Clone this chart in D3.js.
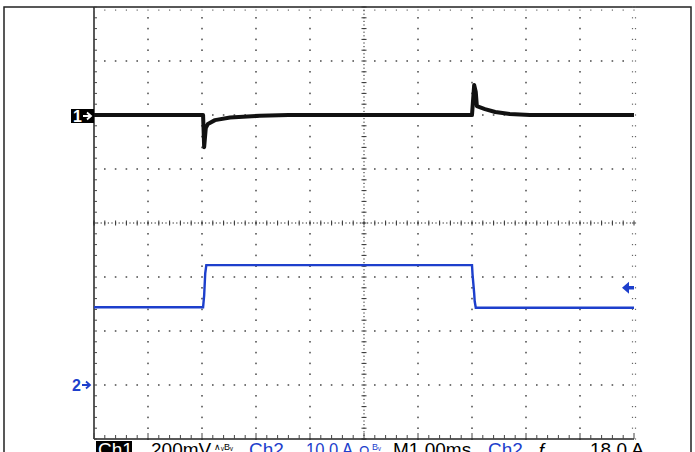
<!DOCTYPE html>
<html>
<head>
<meta charset="utf-8">
<script src="https://cdn.jsdelivr.net/npm/d3@7.9.0/dist/d3.min.js"></script>
<style>
  body { margin: 0; background: #fff; }
  svg { display: block; font-family: "Liberation Sans", Arial, sans-serif; }
</style>
</head>
<body>
<svg id="scope" width="695" height="452"></svg>
<script>
// scope capture: Ch1 voltage (200mV/div), Ch2 current (10A/div), 1ms/div
const ch1Time = [0, 2.02, 2.04, 2.07, 2.11, 2.24, 2.52, 3.07, 3.6, 7.0, 7.04, 7.07, 7.09, 7.24, 7.43, 7.70, 8.07, 10];
const ch1mV   = [0, 0, -119, -48, -33, -19, -9, -3, 0, 0, 111, 85, 33, 22, 11, 4, 0, 0];

const ch2Time = [0, 2.02, 2.04, 2.06, 2.08, 7.0, 7.01, 7.04, 7.05, 7.07, 10];
const ch2Amp  = [14.4, 14.4, 16.6, 20.7, 22.2, 22.2, 20.5, 17.0, 15.5, 14.3, 14.3];

const triggerLevel = 18.0; // A on ch2

let svg = d3.select('#scope');
const blue = '#1d3fcc';

// graticule: 10 x 8 divisions
let gx = d3.scaleLinear().domain([0, 10]).range([94, 634]);
let gy = d3.scaleLinear().domain([0, 8]).range([7, 439]);

// channel scales (time in ms, ch1 in mV, ch2 in A)
let x = d3.scaleLinear().domain([0, 10]).range([94, 634]);
let y1 = d3.scaleLinear().domain([0, 200]).range([115, 61]);
let y2 = d3.scaleLinear().domain([0, 10]).range([385, 331]);

// outer frame
svg.append('path')
  .attr('d', 'M4,452 L4,7 L691,7 L691,452')
  .attr('fill', 'none').attr('stroke', '#222').attr('stroke-width', 1.5);

let grid = svg.append('g');
let minor = d3.range(0, 51);  // fifths along x
let minorY = d3.range(0, 41); // fifths along y

// dotted division lines
for (let i = 1; i < 10; i++) {
  if (i === 5) continue;
  minorY.forEach(j => {
    grid.append('rect').attr('x', gx(i) - 0.8).attr('y', gy(j / 5) - 0.8)
      .attr('width', 1.6).attr('height', 1.6).attr('fill', '#555');
  });
}
for (let j = 1; j < 8; j++) {
  if (j === 4) continue;
  minor.forEach(i => {
    if (i % 5 === 0) return;
    grid.append('rect').attr('x', gx(i / 5) - 0.8).attr('y', gy(j) - 0.8)
      .attr('width', 1.6).attr('height', 1.6).attr('fill', '#555');
  });
}

// centre cross: fine dots + small ticks
d3.range(0, 151).forEach(k => {
  grid.append('rect').attr('x', gx(k / 15) - 0.6).attr('y', gy(4) - 0.6)
    .attr('width', 1.2).attr('height', 1.2).attr('fill', '#444');
});
d3.range(0, 121).forEach(k => {
  grid.append('rect').attr('x', gx(5) - 0.6).attr('y', gy(k / 15) - 0.6)
    .attr('width', 1.2).attr('height', 1.2).attr('fill', '#444');
});
minor.forEach(i => {
  grid.append('line').attr('x1', gx(i / 5)).attr('x2', gx(i / 5))
    .attr('y1', gy(4) - 2.5).attr('y2', gy(4) + 2.5)
    .attr('stroke', '#333').attr('stroke-width', 1);
});
minorY.forEach(j => {
  grid.append('line').attr('x1', gx(5) - 2.5).attr('x2', gx(5) + 2.5)
    .attr('y1', gy(j / 5)).attr('y2', gy(j / 5))
    .attr('stroke', '#333').attr('stroke-width', 1);
});

// edges: left and bottom solid with ticks, right edge double dots, top dots
grid.append('line').attr('x1', gx(0)).attr('x2', gx(0)).attr('y1', gy(0)).attr('y2', gy(8))
  .attr('stroke', '#222').attr('stroke-width', 1.5);
grid.append('line').attr('x1', gx(0)).attr('x2', gx(10)).attr('y1', gy(8)).attr('y2', gy(8))
  .attr('stroke', '#222').attr('stroke-width', 1.5);
minorY.forEach(j => {
  grid.append('line').attr('x1', gx(0)).attr('x2', gx(0) + 3)
    .attr('y1', gy(j / 5)).attr('y2', gy(j / 5)).attr('stroke', '#444');
  [-1.5, 1.5].forEach(o => {
    grid.append('rect').attr('x', gx(10) + o - 0.6).attr('y', gy(j / 5) - 0.6)
      .attr('width', 1.2).attr('height', 1.2).attr('fill', '#666');
  });
});
minor.forEach(i => {
  grid.append('line').attr('x1', gx(i / 5)).attr('x2', gx(i / 5))
    .attr('y1', gy(8)).attr('y2', gy(8) - (i % 5 === 0 ? 6 : 4)).attr('stroke', '#444');
  grid.append('rect').attr('x', gx(i / 5) - 0.6).attr('y', gy(0) + 2.5)
    .attr('width', 1.2).attr('height', 1.2).attr('fill', '#666');
});

// traces
let line1 = d3.line().x((d, i) => x(ch1Time[i])).y(d => y1(d));
let line2 = d3.line().x((d, i) => x(ch2Time[i])).y(d => y2(d));

svg.append('path').attr('d', line2(ch2Amp))
  .attr('fill', 'none').attr('stroke', blue).attr('stroke-width', 2.4);
svg.append('path').attr('d', line1(ch1mV))
  .attr('fill', 'none').attr('stroke', '#111').attr('stroke-width', 4)
  .attr('stroke-linejoin', 'round');

// small right-pointing arrow used by the ground markers
function arrowRight(g, x0, yc, color) {
  g.append('path')
    .attr('d', `M${x0},${yc} L${x0 + 7},${yc} M${x0 + 4},${yc - 3.5} L${x0 + 8},${yc} L${x0 + 4},${yc + 3.5}`)
    .attr('fill', 'none').attr('stroke', color).attr('stroke-width', 1.8);
}

// ch1 ground marker
let m1 = svg.append('g');
m1.append('rect').attr('x', 71).attr('y', y1(0) - 6).attr('width', 23).attr('height', 14).attr('fill', '#000');
m1.append('text').attr('x', 73).attr('y', y1(0) + 6.5).attr('fill', '#fff')
  .attr('font-size', 16).attr('font-weight', 'bold').text('1');
arrowRight(m1, 83, y1(0) + 1, '#fff');

// ch2 ground marker
let m2 = svg.append('g');
m2.append('text').attr('x', 72).attr('y', y2(0) + 6).attr('fill', blue)
  .attr('font-size', 16).attr('font-weight', 'bold').text('2');
arrowRight(m2, 82, y2(0), blue);

// trigger level arrow
let ty = y2(triggerLevel);
svg.append('path')
  .attr('d', `M622,${ty} L629,${ty - 6} L629,${ty - 1.8} L634,${ty - 1.8} L634,${ty + 1.8} L629,${ty + 1.8} L629,${ty + 6} Z`)
  .attr('fill', blue);

// status line (partly cut off by the bottom edge)
let status = svg.append('g').attr('font-size', 19);
status.append('rect').attr('x', 96).attr('y', 441).attr('width', 36).attr('height', 14).attr('fill', '#000');
status.append('text').attr('x', 98).attr('y', 456).attr('fill', '#fff').text('Ch1');
status.append('text').attr('x', 151).attr('y', 456).attr('fill', '#000').text('200mV');
status.append('text').attr('x', 214).attr('y', 450).attr('fill', '#000').attr('font-size', 9).text('\u2227\u1D65B\u1D65');
status.append('text').attr('x', 249).attr('y', 456).attr('fill', blue).text('Ch2');
status.append('text').attr('x', 306).attr('y', 456).attr('fill', blue).attr('font-size', 18)
  .attr('textLength', 47).attr('lengthAdjust', 'spacingAndGlyphs').text('10.0 A');
status.append('text').attr('x', 359).attr('y', 456).attr('fill', blue).attr('font-size', 14).text('\u03A9');
status.append('text').attr('x', 372).attr('y', 450).attr('fill', blue).attr('font-size', 9).text('B\u1D65');
status.append('text').attr('x', 393).attr('y', 456).attr('fill', '#000').text('M1.00ms');
status.append('text').attr('x', 488).attr('y', 456).attr('fill', blue).text('Ch2');
status.append('text').attr('x', 536).attr('y', 456).attr('fill', '#000').attr('font-style', 'italic').text('ƒ');
status.append('text').attr('x', 590).attr('y', 456).attr('fill', '#000').text('18.0 A');
</script>
</body>
</html>
